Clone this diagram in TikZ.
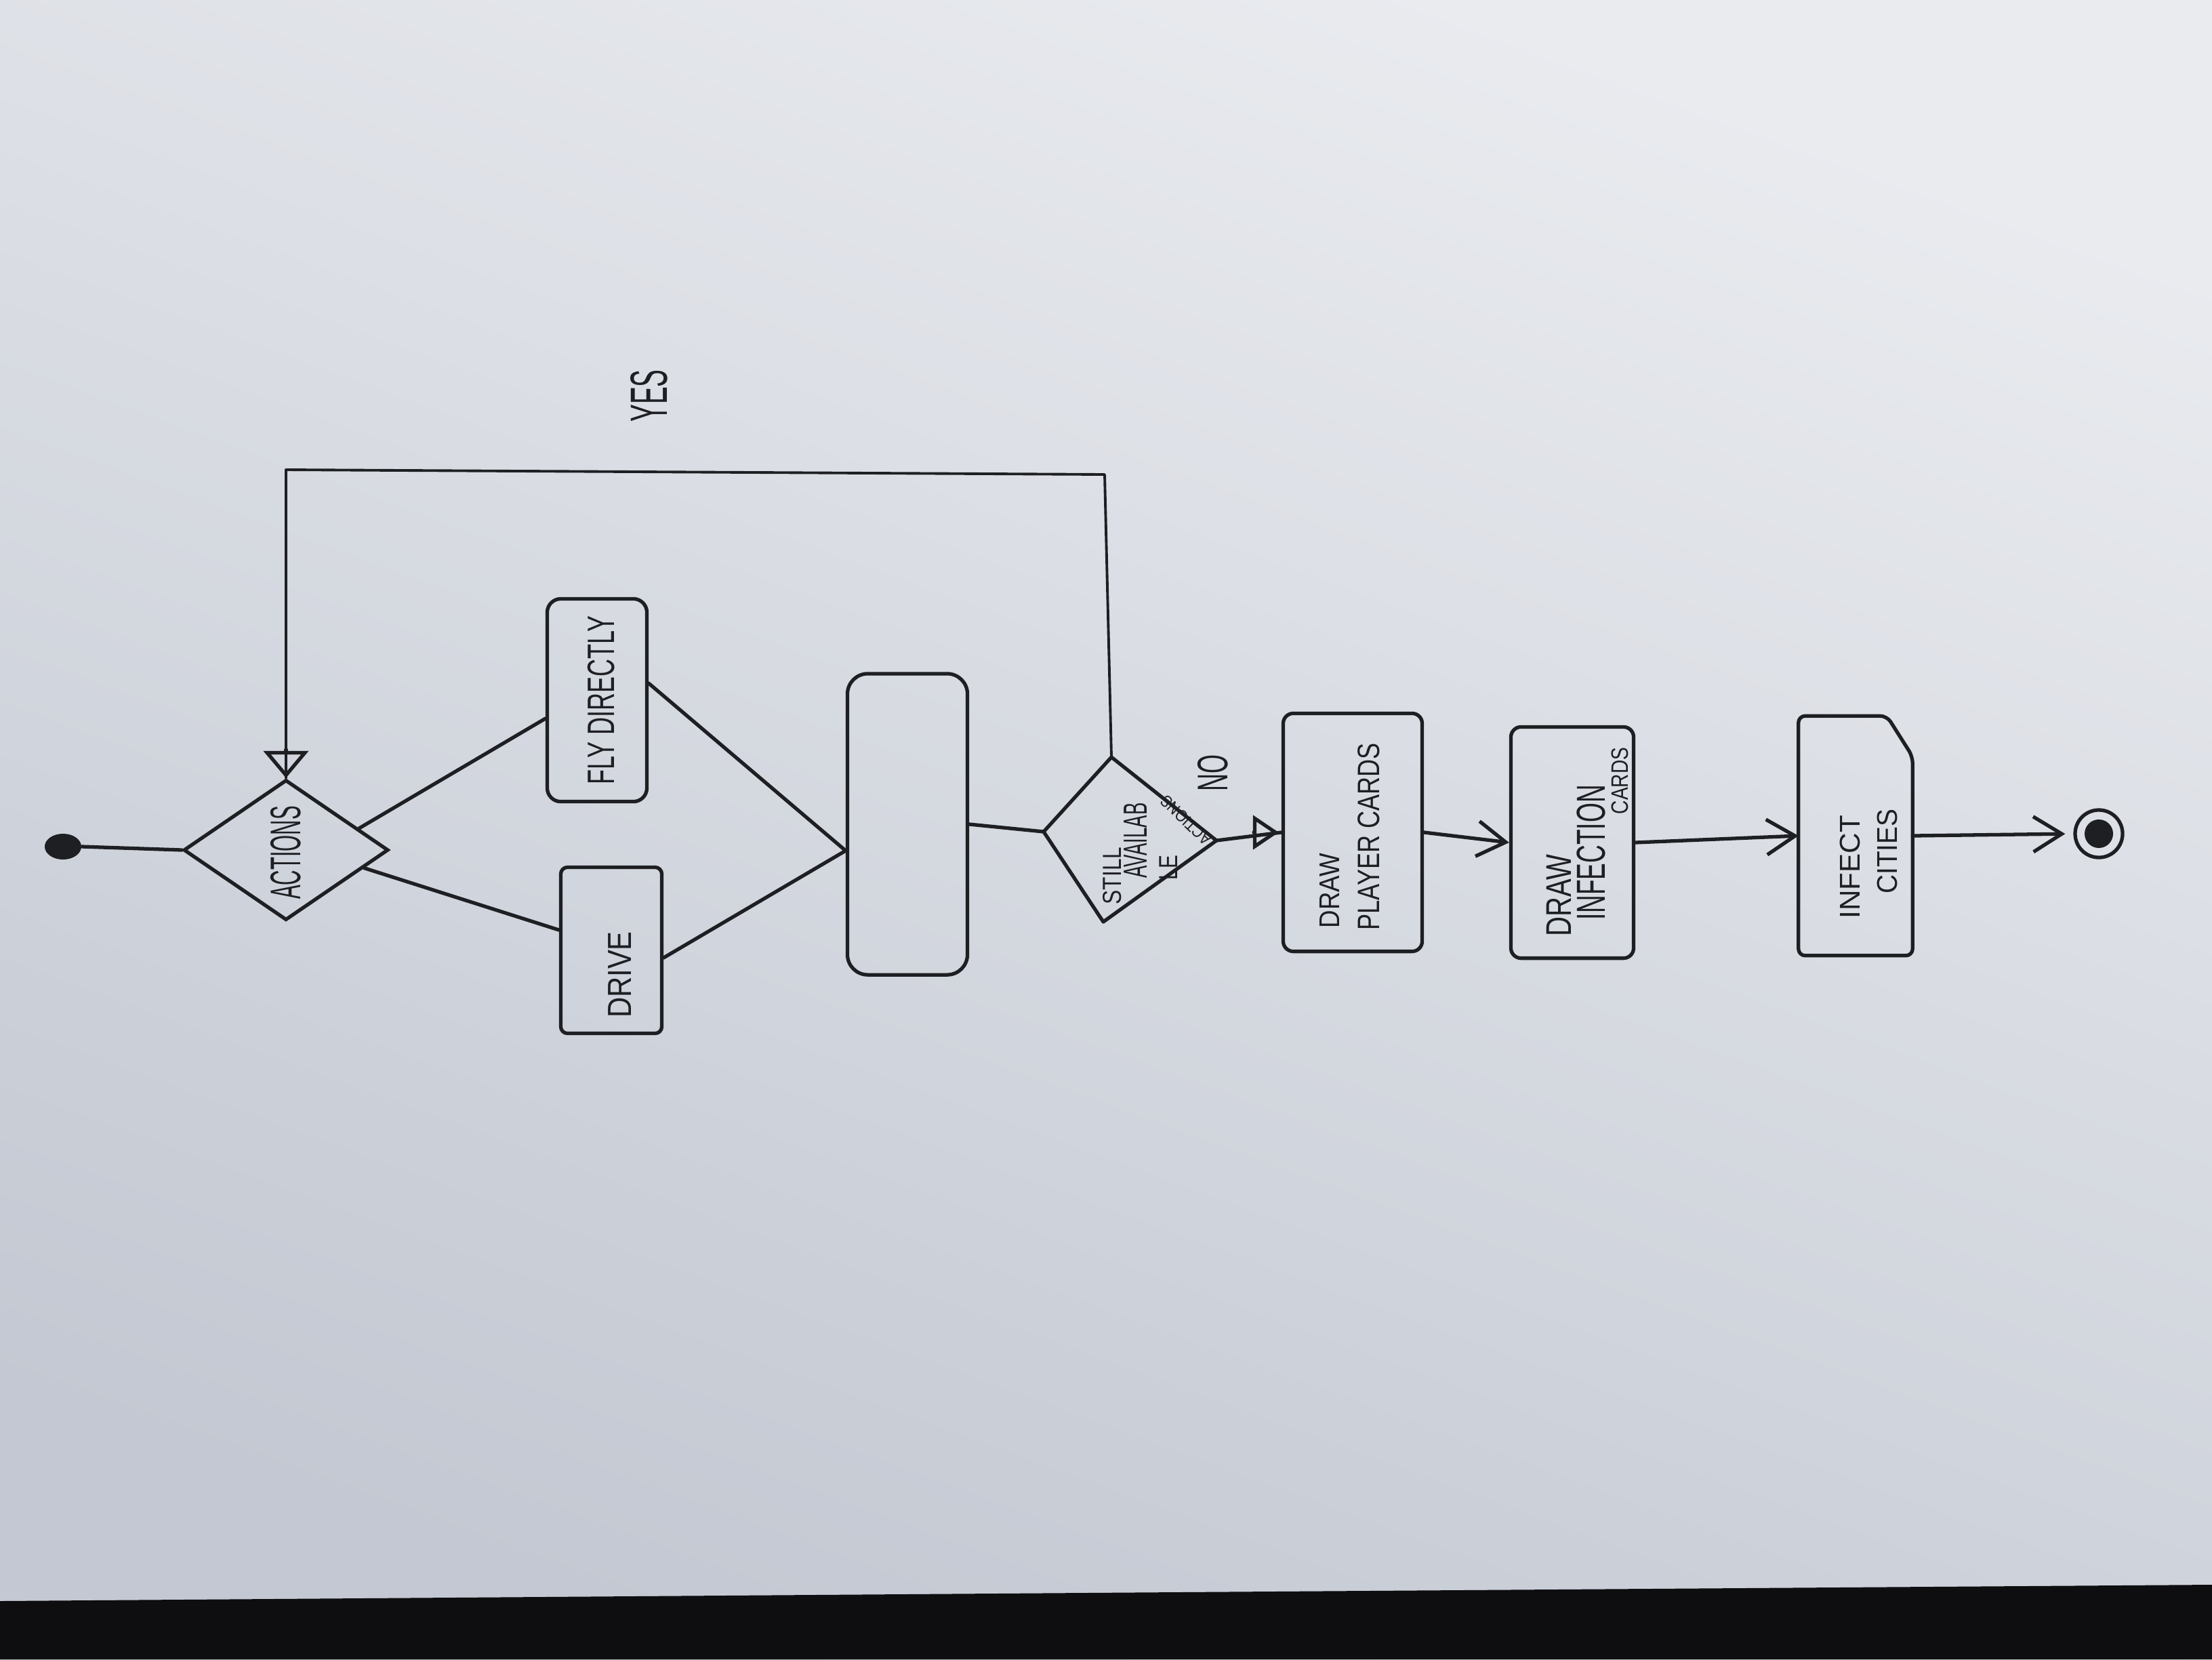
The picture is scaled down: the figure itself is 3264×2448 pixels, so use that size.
\documentclass[tikz,border=0pt]{standalone}
\usepackage{graphicx}
\usepackage{fontspec}
\setmainfont{Liberation Sans}
\usetikzlibrary{shapes.geometric,arrows.meta,calc}

\definecolor{ink}{HTML}{1E1F23}
\definecolor{paperhi}{HTML}{E9EBEF}
\definecolor{papermid}{HTML}{CED3DC}
\definecolor{paperlo}{HTML}{C3C8D2}
\definecolor{tabletop}{HTML}{0E0E11}

% size, horizontal squeeze, text
\newcommand{\hand}[3]{\fontsize{#1}{#1}\selectfont\scalebox{#2}[1]{#3}}

\begin{document}
\begin{tikzpicture}[x=0.01cm,y=-0.01cm,
  inkline/.style={draw=ink, line width=1.5pt},
  box/.style={inkline, rectangle, inner sep=0pt},
  decision/.style={inkline, diamond, inner sep=0pt},
  lbl/.style={text=ink, inner sep=0pt, rotate=90},
  flow/.style={draw=ink, line width=1.5pt, line cap=round, line join=round},
  thinflow/.style={draw=ink, line width=1.1pt, line cap=round, line join=round},
  vhead/.style={-{Straight Barb[length=0.42cm,width=0.52cm]}},
  openhead/.style={-{Triangle[open,length=0.4cm,width=0.66cm]}}
]
\useasboundingbox (0,0) rectangle (3264,2448);

% paper and table edge
\shade[top color=paperhi, middle color=papermid, bottom color=paperlo, shading angle=-20]
  (0,0) rectangle (3264,2448);
\fill[tabletop] (0,2362) -- (1600,2350) -- (3264,2338) -- (3264,2448) -- (0,2448) -- cycle;

% start and first decision
\node[ellipse, fill=ink, minimum width=0.54cm, minimum height=0.38cm, inner sep=0pt] (start) at (93,1249) {};
\node[decision, minimum width=3.02cm, minimum height=2.07cm] (actions) at (422,1254) {};
\node[lbl] (tactions) at (422,1258) {\hand{18}{0.49}{ACTIONS}};

% the two actions
\node[box, rounded corners=0.2cm, minimum width=1.47cm, minimum height=2.99cm] (fly) at (881,1033) {};
\node[lbl] (tfly) at (887,1033) {\hand{16}{0.64}{FLY DIRECTLY}};
\node[box, rounded corners=0.1cm, minimum width=1.49cm, minimum height=2.45cm] (drive) at (902,1402) {};
\node[lbl] (tdrive) at (915,1438) {\hand{14}{0.85}{DRIVE}};

% merge box
\node[box, rounded corners=0.3cm, minimum width=1.77cm, minimum height=4.44cm] (merge) at (1339,1216) {};

% second decision, drawn as a kite
\coordinate (sL) at (1540,1227);
\coordinate (sT) at (1640,1117);
\coordinate (sR) at (1795,1240);
\coordinate (sB) at (1628,1360);
\draw[flow] (sL) -- (sT) -- (sR) -- (sB) -- cycle;
\node[lbl] (tstill) at (1641,1292) {\hand{11}{0.82}{STILL}};
\node[lbl] (tavail) at (1676,1240) {\hand{14}{0.56}{AVAILAB}};
\node[lbl] (tle) at (1724,1280) {\hand{11}{0.77}{LE}};
\node[text=ink, inner sep=0pt, rotate=136] (tact2) at (1750,1210) {\hand{7}{0.85}{ACTIONS}};
\node[lbl] (tno) at (1790,1140) {\hand{18}{0.57}{NO}};
\node[lbl] (tyes) at (958,584) {\hand{22}{0.5}{YES}};

% end-of-turn steps
\node[box, rounded corners=0.15cm, minimum width=2.05cm, minimum height=3.51cm] (pcards) at (1996,1228) {};
\node[lbl] (tdraw1) at (1962,1314) {\hand{12}{0.87}{DRAW}};
\node[lbl] (tplayer) at (2020,1234) {\hand{13}{0.79}{PLAYER CARDS}};

\node[box, rounded corners=0.15cm, minimum width=1.81cm, minimum height=3.41cm] (icards) at (2320,1243) {};
\node[lbl] (tdraw2) at (2300,1321) {\hand{15}{0.76}{DRAW}};
\node[lbl] (tinfection) at (2348,1258) {\hand{17}{0.62}{INFECTION}};
\node[lbl] (tcards) at (2390,1152) {\hand{10}{0.8}{CARDS}};

\node[inner sep=0pt, minimum width=1.67cm, minimum height=3.52cm] (infect) at (2738,1233) {};
\draw[flow, rounded corners=0.1cm] (infect.south west) -- (infect.north west)
  -- ($(infect.north east)+(-38,0)$) -- ($(infect.north east)+(0,60)$)
  -- (infect.south east) -- cycle;
\node[lbl] (tinfect) at (2730,1279) {\hand{12}{1.0}{INFECT}};
\node[lbl] (tcities) at (2785,1256) {\hand{12}{0.92}{CITIES}};

% final state
\node[circle, inkline, minimum size=0.7cm, inner sep=0pt] (endc) at (3097,1230) {};
\node[circle, fill=ink, minimum size=0.42cm, inner sep=0pt] (endcore) at (endc.center) {};

% connectors
\coordinate (aUp) at ($(actions.north)!0.7!(actions.east)$);
\coordinate (aDown) at ($(actions.east)!0.25!(actions.south)$);
\coordinate (mIn) at ($(merge.west)+(0,39)$);
\draw[flow] (start.east) -- (actions.west);
\draw[flow] (aUp) -- ($(fly.west)+(0,27)$);
\draw[flow] (aDown) -- ($(drive.west)+(0,-30)$);
\draw[flow] ($(fly.east)+(0,-25)$) -- (mIn);
\draw[flow] ($(drive.east)+(0,11)$) -- (mIn);
\draw[flow] (merge.east) -- (sL);

% yes: back to the actions
\coordinate (loopR) at (1630,700);
\coordinate (loopL) at (actions.north |- 0,693);
\draw[thinflow] (sT) -- (loopR) -- (loopL) -- (actions.north);
\draw[flow, openhead] ($(actions.north)+(0,-42)$) -- (actions.north);

% no: on to the cards
\draw[flow] (sR) -- (pcards.west);
\draw[flow, -{Triangle[open,length=0.38cm,width=0.5cm]}] ($(pcards.west)+(-40,0)$) -- ($(pcards.west)+(-4,0)$);
\draw[flow, vhead] (pcards.east) -- (icards.west);
\draw[flow, vhead] (icards.east) -- (infect.west);
\draw[flow, vhead, shorten >=0.12cm] (infect.east) -- (endc.west);
\end{tikzpicture}
\end{document}
